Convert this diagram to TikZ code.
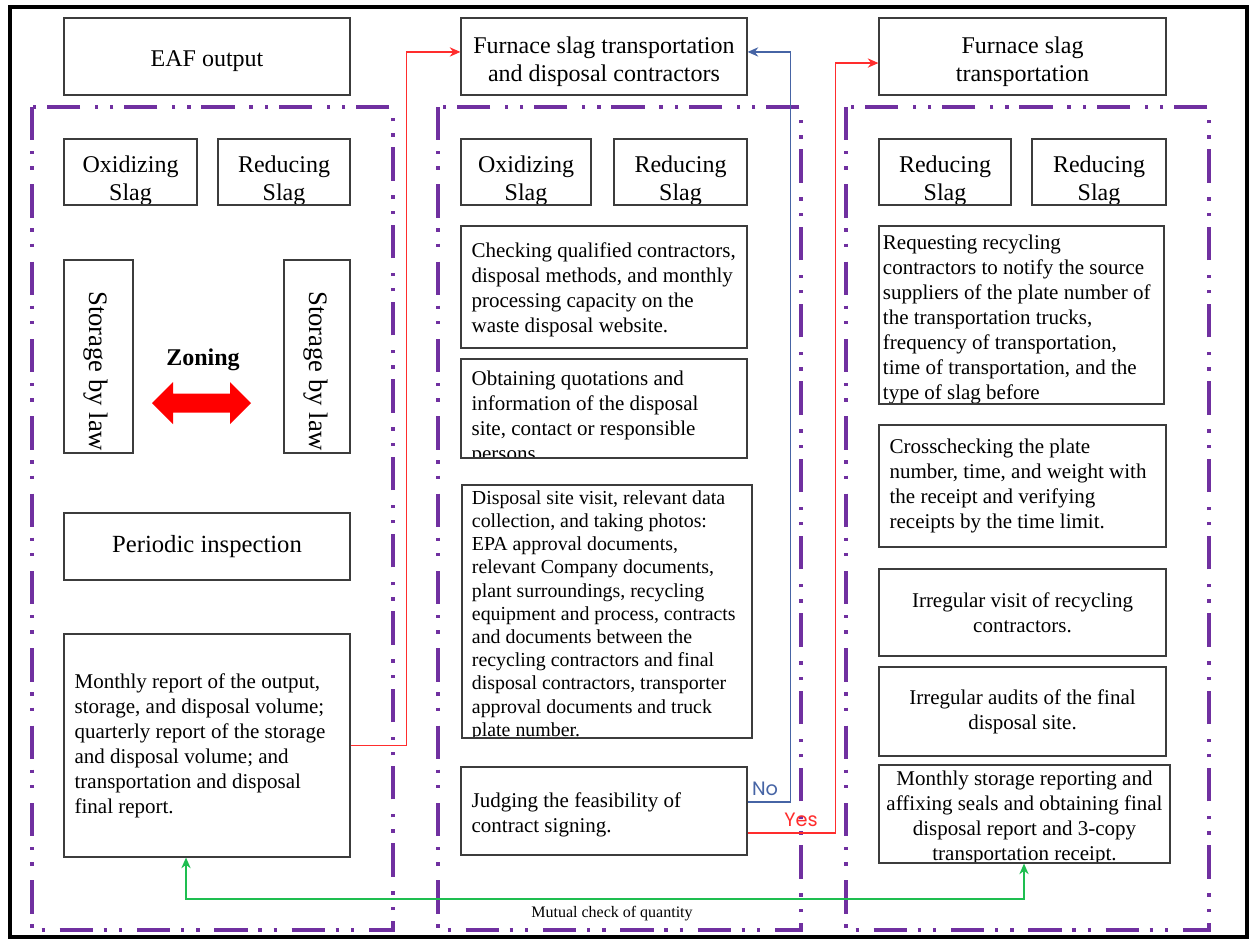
\documentclass[tikz,border=0pt]{standalone}
\usepackage{fontspec}
\setmainfont{Liberation Serif}
\newfontfamily\lblfont{Poppins}
\usetikzlibrary{arrows.meta}

\definecolor{frameviolet}{RGB}{112,48,160}
\definecolor{boxline}{RGB}{60,60,60}
\definecolor{linkred}{RGB}{255,45,45}
\definecolor{linkblue}{RGB}{70,100,165}
\definecolor{linkgreen}{RGB}{30,190,80}

\tikzset{
  box/.style={draw=boxline, line width=0.9pt, fill=white, inner sep=0pt},
  plain/.style={minimum width=0pt, minimum height=0pt, text width={}, inner sep=0pt},
  body/.style={plain, font=\fontsize{15.75}{18.75}\selectfont, align=left},
  bodyc/.style={font=\fontsize{15.75}{18.75}\selectfont, align=center},
  head/.style={font=\fontsize{18}{21}\selectfont, align=center},
  zone/.style={draw=frameviolet, line width=3pt,
    dash pattern=on 25pt off 8pt on 2.5pt off 9pt on 2.5pt off 11pt},
  link/.style={line width=0.9pt, -{Stealth[length=8pt,width=7pt]}},
  tag/.style={font=\lblfont\fontsize{14.5}{16}\selectfont, inner sep=0pt},
  % text set inside a box and clipped to it
  headtext/.style={path picture={\node[plain, head] at ([yshift=-3.8pt]path picture bounding box.center) {#1};}},
  slagtext/.style={path picture={\node[plain, head] at ([yshift=-6.5pt]path picture bounding box.center) {#1};}},
  lefttext/.style 2 args={path picture={\node[body, anchor=west] at ([xshift=7.5pt,yshift=#2]path picture bounding box.west) {#1};}},
  centertext/.style 2 args={path picture={\node[plain, bodyc] at ([yshift=#2]path picture bounding box.center) {#1};}},
  stortext/.style={path picture={\node[plain, font=\fontsize{20}{23}\selectfont, rotate=-90] at ([xshift=#1,yshift=-11pt]path picture bounding box.center) {Storage by law};}},
}

% \mkbox[options]{name}{x1}{y1}{x2}{y2}{text}: a box spanning two corners
\newcommand{\mkbox}[7][]{%
  \pgfmathsetmacro\mkbw{(#5-#3)*0.75}%
  \pgfmathsetmacro\mkbh{(#6-#4)*0.75}%
  \node[box, minimum width=\mkbw pt, minimum height=\mkbh pt, #1] (#2) at ({(#3+#5)/2},{(#4+#6)/2}) {#7};}

\begin{document}
\begin{tikzpicture}[x=0.75pt, y=-0.75pt]
\fill[white] (0,0) rectangle (1252,942);
\useasboundingbox (0,0) rectangle (1252,942);
\draw[line width=3pt] (10,7) rectangle (1247,937);

% dash-dot zones
\draw[zone] (32,107) rectangle (393,930);
\draw[zone] (438,107) rectangle (801,930);
\draw[zone] (846,107) rectangle (1209,930);

% top row
\mkbox[headtext={EAF output}]{eaf}{64}{18}{350}{95}{}
\mkbox[headtext={Furnace slag transportation\\and disposal contractors}]{contr}{461}{18}{747}{95}{}
\mkbox[headtext={Furnace slag\\transportation}]{trans}{879}{18}{1166}{95}{}

% left column
\mkbox[slagtext={Oxidizing\\Slag}]{oxA}{64}{139}{197}{205}{}
\mkbox[slagtext={Reducing\\Slag}]{redA}{218}{139}{350}{205}{}
\mkbox[stortext=-2pt]{storA}{64}{260}{133}{453}{}
\mkbox[stortext=-1pt]{storB}{284}{260}{350}{453}{}
\node[font=\bfseries\fontsize{18}{21}\selectfont] (zoning) at (203,360) {Zoning};
\fill[red] (152,403) -- (173,382) -- (173,393.5) -- (230,393.5) -- (230,382)
  -- (251,403) -- (230,424) -- (230,412.5) -- (173,412.5) -- (173,424) -- cycle;
\mkbox[font=\fontsize{18.5}{22}\selectfont]{insp}{64}{513}{350}{580}{Periodic inspection}
\mkbox[lefttext={Monthly report of the output,\\storage, and disposal volume;\\quarterly report of the storage\\and disposal volume; and\\transportation and disposal\\final report.}{0pt}]{mrep}{64}{634}{350}{857}{}

% middle column
\mkbox[slagtext={Oxidizing\\Slag}]{oxB}{461}{139}{591}{205}{}
\mkbox[slagtext={Reducing\\Slag}]{redB}{614}{139}{747}{205}{}
\mkbox[lefttext={Checking qualified contractors,\\disposal methods, and monthly\\processing capacity on the\\waste disposal website.}{-2pt}]{chk}{461}{226}{747}{348}{}
\mkbox[lefttext={Obtaining quotations and\\information of the disposal\\site, contact or responsible\\persons.}{-7pt}]{quo}{461}{359}{747}{458}{}
\mkbox[path picture={\node[plain, font=\fontsize{14.9}{17.4}\selectfont, align=left, anchor=west] at ([xshift=7pt,yshift=-3pt]path picture bounding box.west) {Disposal site visit, relevant data\\collection, and taking photos:\\EPA approval documents,\\relevant Company documents,\\plant surroundings, recycling\\equipment and process, contracts\\and documents between the\\recycling contractors and final\\disposal contractors, transporter\\approval documents and truck\\plate number.};}]{visit}{462}{485}{752}{738}{}
\mkbox[lefttext={Judging the feasibility of\\contract signing.}{-3pt}]{judge}{461}{767}{747}{855}{}

% right column
\mkbox[slagtext={Reducing\\Slag}]{redC}{879}{139}{1011}{205}{}
\mkbox[slagtext={Reducing\\Slag}]{redD}{1032}{139}{1166}{205}{}
\mkbox[path picture={\node[body, anchor=west] at ([xshift=2.5pt,yshift=-3.2pt]path picture bounding box.west) {Requesting recycling\\contractors to notify the source\\suppliers of the plate number of\\the transportation trucks,\\frequency of transportation,\\time of transportation, and the\\type of slag before};}]{req}{879}{226}{1164}{404}{}
\mkbox[lefttext={Crosschecking the plate\\number, time, and weight with\\the receipt and verifying\\receipts by the time limit.}{0pt}]{cross}{879}{425}{1166}{547}{}
\mkbox[bodyc]{irv}{879}{569}{1166}{656}{Irregular visit of recycling\\contractors.}
\mkbox[bodyc]{ira}{879}{667}{1166}{756}{Irregular audits of the final\\disposal site.}
\mkbox[centertext={Monthly storage reporting and\\affixing seals and obtaining final\\disposal report and 3-copy\\transportation receipt.}{-3pt}]{srep}{879}{765}{1170}{863}{}

% connectors
\draw[link, linkred] (mrep.east) -- ++(56,0) |- ([yshift=3.4pt]contr.west);
\draw[link, linkblue] ([yshift=6.75pt]judge.east) -- ++(43,0) |- ([yshift=3.4pt]contr.east);
\draw[link, linkred] ([yshift=-16.5pt]judge.east) -- ++(88,0) |- ([yshift=-4.9pt]trans.west);
\node[tag, text=linkblue] (no) at (765,789) {No};
\node[tag, text=linkred] (yes) at (801,820) {Yes};

\coordinate (gl) at (186,899);
\coordinate (gr) at (1024,899);
\draw[line width=0.9pt, linkgreen, {Stealth[length=8pt,width=7pt]}-{Stealth[length=8pt,width=7pt]}]
  (mrep.south -| gl) -- (gl) -- (gr) -- (srep.south -| gr);
\node[font=\fontsize{12}{14}\selectfont] (mutual) at (612,914) {Mutual check of quantity};
\end{tikzpicture}
\end{document}
